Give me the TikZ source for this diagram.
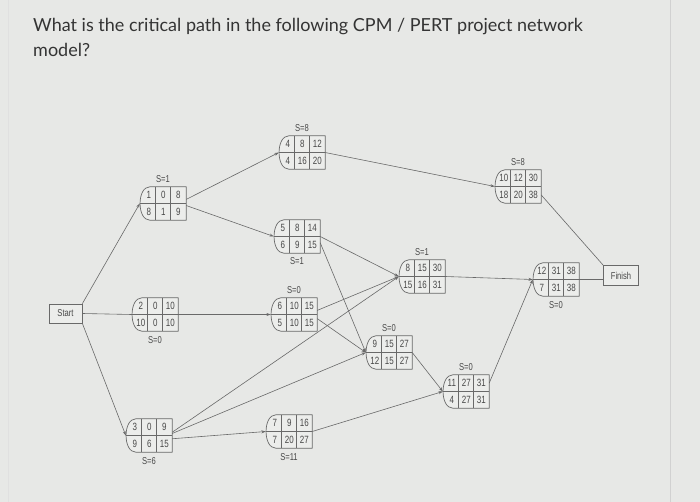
\documentclass[tikz,border=0pt]{standalone}
\usepackage{fontspec}
\setmainfont{Lato}
\newfontfamily\cellfont[FakeStretch=0.76]{Liberation Sans}
\usetikzlibrary{calc}
\usetikzlibrary{positioning}
\usetikzlibrary{arrows.meta}
\tikzset{>={Stealth[length=4.4pt,width=3pt]}}
\usepackage{xcolor}
\definecolor{bggray}{RGB}{231,232,230}
\definecolor{boxfill}{RGB}{236,237,235}
\definecolor{linegray}{RGB}{105,105,105}
\definecolor{textgray}{RGB}{72,72,72}
\definecolor{titlegray}{RGB}{52,52,52}

\tikzset{
  actbox/.style={minimum width=46pt, minimum height=33pt, inner sep=0pt, draw=none},
  boxline/.style={draw=linegray, line width=0.7pt, line join=round},
  termbox/.style={draw=linegray, line width=0.7pt, fill=boxfill, inner sep=0pt,
    font=\cellfont\fontsize{10}{11}\selectfont, text=textgray},
  cell/.style={inner sep=0pt, font=\cellfont\fontsize{10.5}{11}\selectfont, text=textgray},
  slack/.style={inner sep=0pt, font=\cellfont\fontsize{10}{11}\selectfont, text=textgray},
  link/.style={draw=linegray, line width=0.6pt},
  titletext/.style={anchor=base west, inner sep=0pt, font=\fontsize{18}{25}\selectfont, text=titlegray},
}

% 活动节点: 名称, 中心, 活动, ES, EF, 工期, LS, LF
\newcommand{\actnode}[8]{%
  \node[actbox] (#1) at (#2) {};
  \fill[boxfill] ($(#1.north west)+(10,0)$) -- (#1.north east) -- (#1.south east)
    -- ($(#1.south west)+(10,0)$) .. controls ($(#1.south west)+(-3,0)$)
    and ($(#1.north west)+(-3,0)$) .. ($(#1.north west)+(10,0)$);
  \draw[boxline] ($(#1.north west)+(10,0)$) -- (#1.north east) -- (#1.south east)
    -- ($(#1.south west)+(10,0)$) .. controls ($(#1.south west)+(-3,0)$)
    and ($(#1.north west)+(-3,0)$) .. ($(#1.north west)+(10,0)$);
  \draw[boxline] (#1.west) -- (#1.east);
  \draw[boxline] ($(#1.north west)+(16,0)$) -- ($(#1.south west)+(16,0)$);
  \draw[boxline] ($(#1.north west)+(31,0)$) -- ($(#1.south west)+(31,0)$);
  \node[cell] at ($(#1.north west)+(9,8.25)$) {#3};
  \node[cell] at ($(#1.north west)+(23.5,8.25)$) {#4};
  \node[cell] at ($(#1.north west)+(38.5,8.25)$) {#5};
  \node[cell] at ($(#1.north west)+(9,24.75)$) {#6};
  \node[cell] at ($(#1.north west)+(23.5,24.75)$) {#7};
  \node[cell] at ($(#1.north west)+(38.5,24.75)$) {#8};
}

\begin{document}
\begin{tikzpicture}[x=1pt, y=-1pt]
  % 背景
  \useasboundingbox (0,0) rectangle (700,502);
  \fill[bggray] (0,0) rectangle (700,502);
  \draw[line width=0.5pt, black!12] (8,0) -- (8,502);
  \draw[line width=0.6pt, black!18] (670,0) -- (670,502);

  % 题目
  \node[titletext] (title1) at (33,32) {What is the critical path in the following CPM / PERT project network};
  \node[titletext] (title2) at (33,57) {model?};

  % 起止节点
  \node[termbox, minimum width=33pt, minimum height=19pt] (start) at (65.5,313.5) {Start};
  \node[termbox, minimum width=35pt, minimum height=20pt] (finish) at (621,275.5) {Finish};

  % 活动节点
  \actnode{n1}{163,203.5}{1}{0}{8}{8}{1}{9}
  \actnode{n2}{155,314.5}{2}{0}{10}{10}{0}{10}
  \actnode{n3}{149,435.5}{3}{0}{9}{9}{6}{15}
  \actnode{n4}{302,152.5}{4}{8}{12}{4}{16}{20}
  \actnode{n5}{297,236.5}{5}{8}{14}{6}{9}{15}
  \actnode{n6}{294,314.5}{6}{10}{15}{5}{10}{15}
  \actnode{n7}{289,431.5}{7}{9}{16}{7}{20}{27}
  \actnode{n8}{422,276.5}{8}{15}{30}{15}{16}{31}
  \actnode{n9}{389,352.5}{9}{15}{27}{12}{15}{27}
  \actnode{n10}{518,186.5}{10}{12}{30}{18}{20}{38}
  \actnode{n11}{466,391.5}{11}{27}{31}{4}{27}{31}
  \actnode{n12}{556,279.5}{12}{31}{38}{7}{31}{38}

  % 松弛时间
  \node[slack, above=4pt of n1] {S=1};
  \node[slack, below=5pt of n2] {S=0};
  \node[slack, below=5pt of n3] {S=6};
  \node[slack, above=4pt of n4] {S=8};
  \node[slack, below=4pt of n5] {S=1};
  \node[slack, above=4pt of n6] {S=0};
  \node[slack, below=5pt of n7] {S=11};
  \node[slack, above=4pt of n8] {S=1};
  \node[slack, above=4pt of n9] {S=0};
  \node[slack, above=4pt of n10] {S=8};
  \node[slack, above=4pt of n11] {S=0};
  \node[slack, below=5pt of n12] {S=0};

  % 连线
  \draw[link, ->] (start.north east) -- (n1.west);
  \draw[link] (start.east) -- (n2.west);
  \draw[link, ->] (start.south east) -- (n3.west);
  \draw[link, ->] (n1.10) -- (n4.west);
  \draw[link, ->] (n1.-5) -- (n5.west);
  \draw[link, ->] (n2.east) -- (n6.west);
  \draw[link, ->] (n3.8) -- (n8.west);
  \draw[link, ->] (n3.5) -- (n9.west);
  \draw[link, ->] (n3.-8) -- (n7.west);
  \draw[link, ->] (n4.east) -- (n10.west);
  \draw[link, ->] (n5.east) -- (n8.west);
  \draw[link, ->] (n5.-15) -- (n9.west);
  \draw[link, ->] (n6.10) -- (n8.west);
  \draw[link, ->] (n6.-10) -- (n9.west);
  \draw[link, ->] (n7.east) -- (n11.west);
  \draw[link, ->] (n9.east) -- (n11.west);
  \draw[link, ->] (n8.east) -- (n12.west);
  \draw[link, ->] (n11.20) -- (n12.west);
  \draw[link] (n10.-20) -- (finish.north west);
  \draw[link] (n12.east) -- (n12.east -| finish.west);
\end{tikzpicture}
\end{document}
